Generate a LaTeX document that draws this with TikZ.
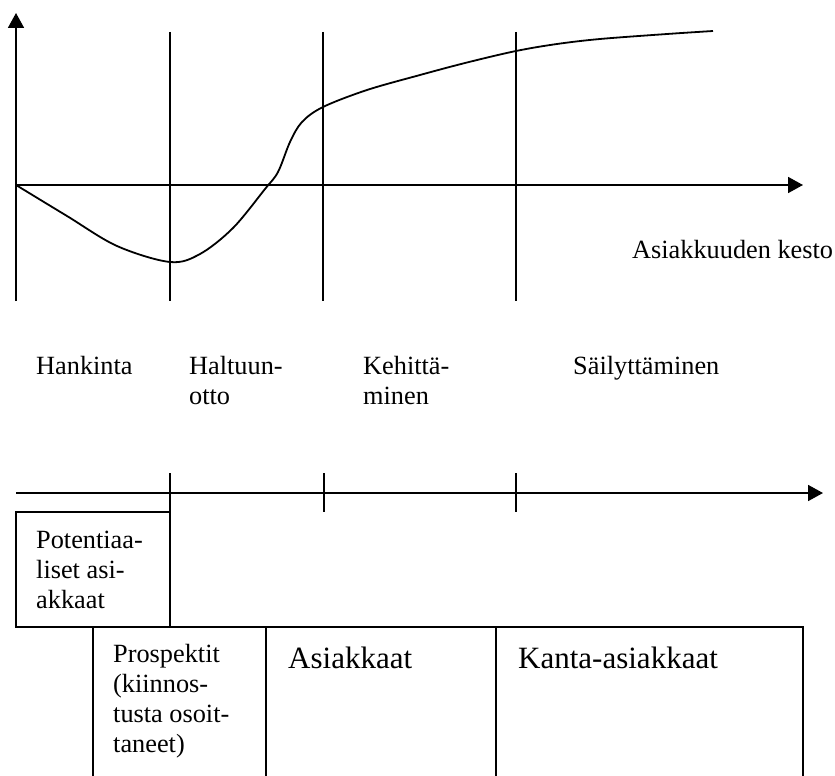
\documentclass[tikz,border=0pt]{standalone}
\usepackage{fontspec}
\setmainfont{Liberation Serif}
\usetikzlibrary{arrows.meta}
\begin{document}
\begin{tikzpicture}[x=1pt,y=-1pt,
  ln/.style={line width=1.8pt},
  axis/.style={line width=1.8pt,-{Triangle[length=15pt,width=16pt]}},
  lbl/.style={inner sep=0pt,anchor=base west,align=left,font=\fontsize{26.3}{30}\selectfont},
  big/.style={inner sep=0pt,anchor=base west,align=left,font=\fontsize{31}{35}\selectfont},
  ]
\useasboundingbox (0,0) rectangle (835,776);
\fill[white] (0,0) rectangle (835,776);
% ---- upper chart
\coordinate (O) at (16,185);
\coordinate (ytop) at (16,13);
\coordinate (ybot) at (16,301);
\coordinate (xend) at (803,185);
\draw[axis] (ybot) -- (ytop);
\draw[axis] (O) -- (xend);
\coordinate (v1t) at (170,32); \coordinate (v1b) at (170,301);
\coordinate (v2t) at (323,32); \coordinate (v2b) at (323,301);
\coordinate (v3t) at (516,32); \coordinate (v3b) at (516,301);
\draw[ln] (v1t) -- (v1b);
\draw[ln] (v2t) -- (v2b);
\draw[ln] (v3t) -- (v3b);
\draw[ln] plot[smooth,tension=0.55] coordinates {(16,185) (67,216) (117,246) (170,262) (200,254) (233,228) (265,189) (278,172) (290,142) (302,122) (323,107) (367,90) (420,75) (467,62.5) (516,51) (557,44) (600,39) (667,34) (713,31)};
\node[lbl] (kesto) at (632,258) {Asiakkuuden kesto};
% ---- phase labels
\node[lbl] (hank) at (36,374) {Hankinta};
\node[lbl] (halt) at (189,404) {Haltuun-\\otto};
\node[lbl] (keh) at (363,404) {Kehittä-\\minen};
\node[lbl] (sail) at (573,374) {Säilyttäminen};
% ---- lower time line
\coordinate (lx0) at (16,493);
\coordinate (lx1) at (823,493);
\draw[axis] (lx0) -- (lx1);
\coordinate (t1t) at (170,473); \coordinate (t1b) at (170,627);
\coordinate (t2t) at (324,473); \coordinate (t2b) at (324,512);
\coordinate (t3t) at (516,473); \coordinate (t3b) at (516,512);
\draw[ln] (t1t) -- (t1b);
\draw[ln] (t2t) -- (t2b);
\draw[ln] (t3t) -- (t3b);
% ---- boxes
\draw[ln] (16,512) rectangle (170,627);
\draw[ln] (93,780) -- (93,627) -- (803,627) -- (803,780);
\draw[ln] (266,627) -- (266,780);
\draw[ln] (496,627) -- (496,780);
\node[lbl] (pot) at (36,608) {Potentiaa-\\liset asi-\\akkaat};
\node[lbl] (pros) at (113,752) {Prospektit\\(kiinnos-\\tusta osoit-\\taneet)};
\node[big] (asi) at (288,668) {Asiakkaat};
\node[big] (kanta) at (518,668) {Kanta-asiakkaat};
\end{tikzpicture}
\end{document}
